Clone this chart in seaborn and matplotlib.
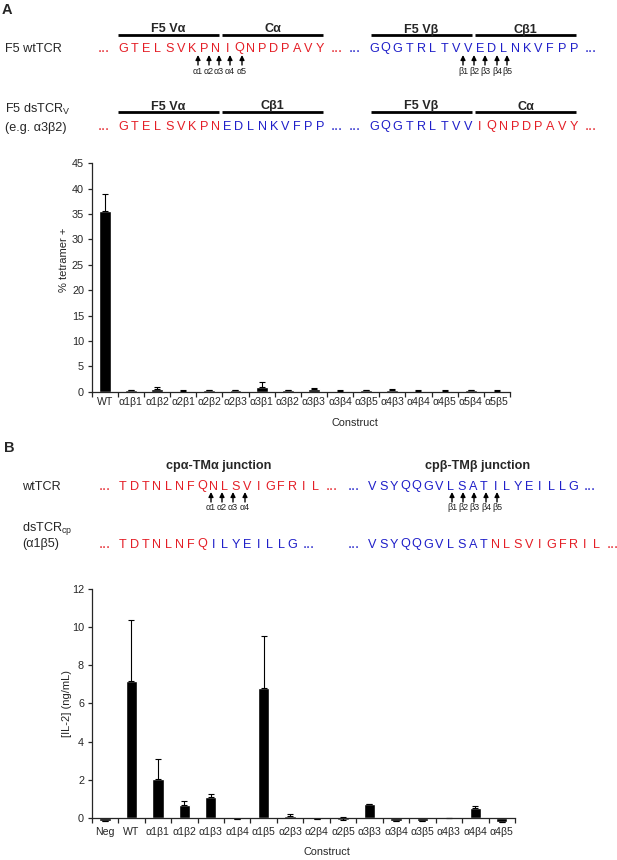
import matplotlib
matplotlib.use("Agg")
import matplotlib.pyplot as plt
import seaborn as sns
import numpy as np

sns.set_style("ticks")
plt.rcParams["font.family"] = ["Liberation Sans", "DejaVu Sans"]
plt.rcParams["mathtext.fontset"] = "custom"
plt.rcParams["mathtext.rm"] = "Liberation Sans"

RED = "#e41e26"
BLUE = "#1f1fc9"

# panel A chart data
constructs_a = ["WT", "α1β1", "α1β2", "α2β1", "α2β2", "α2β3", "α3β1", "α3β2",
                "α3β3", "α3β4", "α3β5", "α4β3", "α4β4", "α4β5", "α5β4", "α5β5"]
tetramer = [35.7, 0.3, 0.5, 0.2, 0.3, 0.3, 1.0, 0.35, 0.5, 0.2, 0.3, 0.4, 0.2, 0.2, 0.35, 0.2]
tetramer_err = [3.3, 0.05, 0.35, 0.05, 0.05, 0.05, 1.0, 0.05, 0.15, 0.05, 0.05, 0.15, 0.05, 0.05, 0.05, 0.05]

# panel B chart data
constructs_b = ["Neg", "WT", "α1β1", "α1β2", "α1β3", "α1β4", "α1β5", "α2β3",
                "α2β4", "α2β5", "α3β3", "α3β4", "α3β5", "α4β3", "α4β4", "α4β5"]
il2 = [-0.2, 7.2, 2.05, 0.65, 1.08, -0.08, 6.8, 0.1, -0.05, -0.1, 0.7, -0.15, -0.2, -0.03, 0.52, -0.22]
il2_err = [0.0, 3.2, 1.05, 0.25, 0.18, 0.0, 2.72, 0.08, 0.0, 0.15, 0.02, 0.0, 0.0, 0.0, 0.07, 0.0]

# sequences
a_wt_left = [("GTELSVKPNIQNPDPAVY", RED)]
a_wt_right = [("GQGTRLTVVEDLNKVFPP", BLUE)]
a_ds_left = [("GTELSVKPN", RED), ("EDLNKVFPP", BLUE)]
a_ds_right = [("GQGTRLTVV", BLUE), ("IQNPDPAVY", RED)]
b_wt_left = [("TDTNLNFQNLSVIGFRIL", RED)]
b_wt_right = [("VSYQQGVLSATILYEILLG", BLUE)]
b_ds_left = [("TDTNLNFQ", RED), ("ILYEILLG", BLUE)]
b_ds_right = [("VSYQQGVLSAT", BLUE), ("NLSVIGFRIL", RED)]

W, H = 617, 860
fig = plt.figure(figsize=(W / 100, H / 100), dpi=100)

# overlay for the sequence diagrams, in pixel coordinates
ov = fig.add_axes([0, 0, 1, 1])
ov.set_xlim(0, W)
ov.set_ylim(H, 0)
ov.axis("off")

FS = 9.1
BASE = 4.5  # offset from row centre to text baseline, px


def label(x, y, s, **kw):
    kw.setdefault("fontsize", FS)
    ov.text(x, y + BASE, s, va="baseline", **kw)


def draw_seq(parts, x0, y, step):
    label(x0 - 1.65 * step, y, "...", color=parts[0][1], ha="center",
          fontsize=10.5)
    i = 0
    for letters, col in parts:
        for ch in letters:
            label(x0 + i * step, y, ch, color=col, ha="center")
            i += 1
    label(x0 + (i - 1) * step + 1.45 * step, y, "...", color=parts[-1][1],
          ha="center", fontsize=10.5)


def segment(x0, x1, y, name):
    ov.plot([x0, x1], [y, y], color="black", lw=2, solid_capstyle="butt")
    label((x0 + x1) / 2, y - 7, name, fontweight="bold", ha="center")


def arrows(xs, names, y0, y1, ylab):
    for x, lab in zip(xs, names):
        ov.annotate("", xy=(x, y0), xytext=(x, y1),
                    arrowprops=dict(arrowstyle="-|>", color="black", lw=1,
                                    mutation_scale=7, shrinkA=0, shrinkB=0))
        ov.text(x, ylab, lab, fontsize=6.4, ha="center", va="center",
                color="#222222")


# ---- panel A header ----
ov.text(2, 10, "A", fontsize=10.5, fontweight="bold", va="center")
label(5, 47, "F5 wtTCR")
segment(118, 219, 35, "F5 Vα")
segment(222, 323, 35, "Cα")
segment(371, 472, 35, "F5 Vβ")
segment(475, 576, 35, "Cβ1")
draw_seq(a_wt_left, 123, 47, 11.6)
draw_seq(a_wt_right, 374, 47, 11.75)
arrows([198, 209, 219, 230, 242], ["α1", "α2", "α3", "α4", "α5"], 55, 65, 71)
arrows([463, 474, 485, 497, 507], ["β1", "β2", "β3", "β4", "β5"], 55, 65, 71)

label(5, 108, r"F5 dsTCR$_\mathregular{V}$")
label(5, 126, "(e.g. α3β2)")
segment(118, 219, 112, "F5 Vα")
segment(222, 323, 112, "Cβ1")
segment(371, 472, 112, "F5 Vβ")
segment(475, 576, 112, "Cα")
draw_seq(a_ds_left, 123, 125, 11.6)
draw_seq(a_ds_right, 374, 125, 11.75)

# ---- panel B header ----
ov.text(4, 448, "B", fontsize=10.5, fontweight="bold", va="center")
label(219, 465, "cpα-TMα junction", fontweight="bold", ha="center")
label(478, 465, "cpβ-TMβ junction", fontweight="bold", ha="center")
label(22, 485, "wtTCR")
draw_seq(b_wt_left, 123, 485, 11.3)
draw_seq(b_wt_right, 372, 485, 11.2)
arrows([211, 222, 233, 245], ["α1", "α2", "α3", "α4"], 492, 502, 507)
arrows([452, 463, 474, 486, 497], ["β1", "β2", "β3", "β4", "β5"], 492, 502, 507)
label(22, 526, r"dsTCR$_\mathregular{cp}$")
label(22, 543, "(α1β5)")
draw_seq(b_ds_left, 123, 543, 11.3)
draw_seq(b_ds_right, 372, 543, 11.2)


def style_axes(ax):
    sns.despine(ax=ax)
    ax.set_xlim(-0.5, 15.5)
    ax.set_xticks(np.arange(-0.5, 16, 1), minor=True)
    ax.tick_params(axis="x", which="major", length=0, pad=4, labelsize=7.6)
    ax.tick_params(axis="x", which="minor", length=3.5, width=0.9, direction="out")
    ax.tick_params(axis="y", length=3, width=0.9, pad=2.5, labelsize=7.8)
    for s in ["left", "bottom"]:
        ax.spines[s].set_linewidth(0.9)


# ---- chart A ----
ax1 = fig.add_axes([91.7 / W, 1 - 391.7 / H, (510 - 91.7) / W, (391.7 - 163.3) / H])
sns.barplot(x=constructs_a, y=tetramer, color="black", saturation=1,
            width=0.45, ax=ax1)
ax1.errorbar(np.arange(len(tetramer)), tetramer,
             yerr=[np.zeros(len(tetramer)), tetramer_err], fmt="none",
             ecolor="black", elinewidth=0.8, capsize=2, capthick=0.8)
style_axes(ax1)
ax1.set_ylim(0, 45)
ax1.set_yticks(np.arange(0, 46, 5))
ax1.set_ylabel("% tetramer +", fontsize=8, va="center")
ax1.yaxis.set_label_coords(-0.067, 0.577)
ax1.set_xlabel("Construct", fontsize=7.8)
ax1.xaxis.set_label_coords(0.63, -0.115)

# ---- chart B ----
ax2 = fig.add_axes([91.7 / W, 1 - 823.4 / H, (515 - 91.7) / W, (823.4 - 589.2) / H])
sns.barplot(x=constructs_b, y=il2, color="black", saturation=1,
            width=0.43, ax=ax2)
ax2.errorbar(np.arange(len(il2)), il2,
             yerr=[np.zeros(len(il2)), il2_err], fmt="none",
             ecolor="black", elinewidth=0.8, capsize=2, capthick=0.8)
style_axes(ax2)
ax2.set_ylim(-0.3, 12)
ax2.set_yticks(np.arange(0, 13, 2))
ax2.spines["bottom"].set_position(("data", 0))
ax2.spines["left"].set_bounds(0, 12)
ax2.tick_params(axis="x", which="major", pad=6.5)
ax2.set_ylabel("[IL-2] (ng/mL)", fontsize=8, va="center")
ax2.yaxis.set_label_coords(-0.058, 0.514)
ax2.set_xlabel("Construct", fontsize=7.8)
ax2.xaxis.set_label_coords(0.556, -0.10)

fig.savefig("out.png", dpi=100)
